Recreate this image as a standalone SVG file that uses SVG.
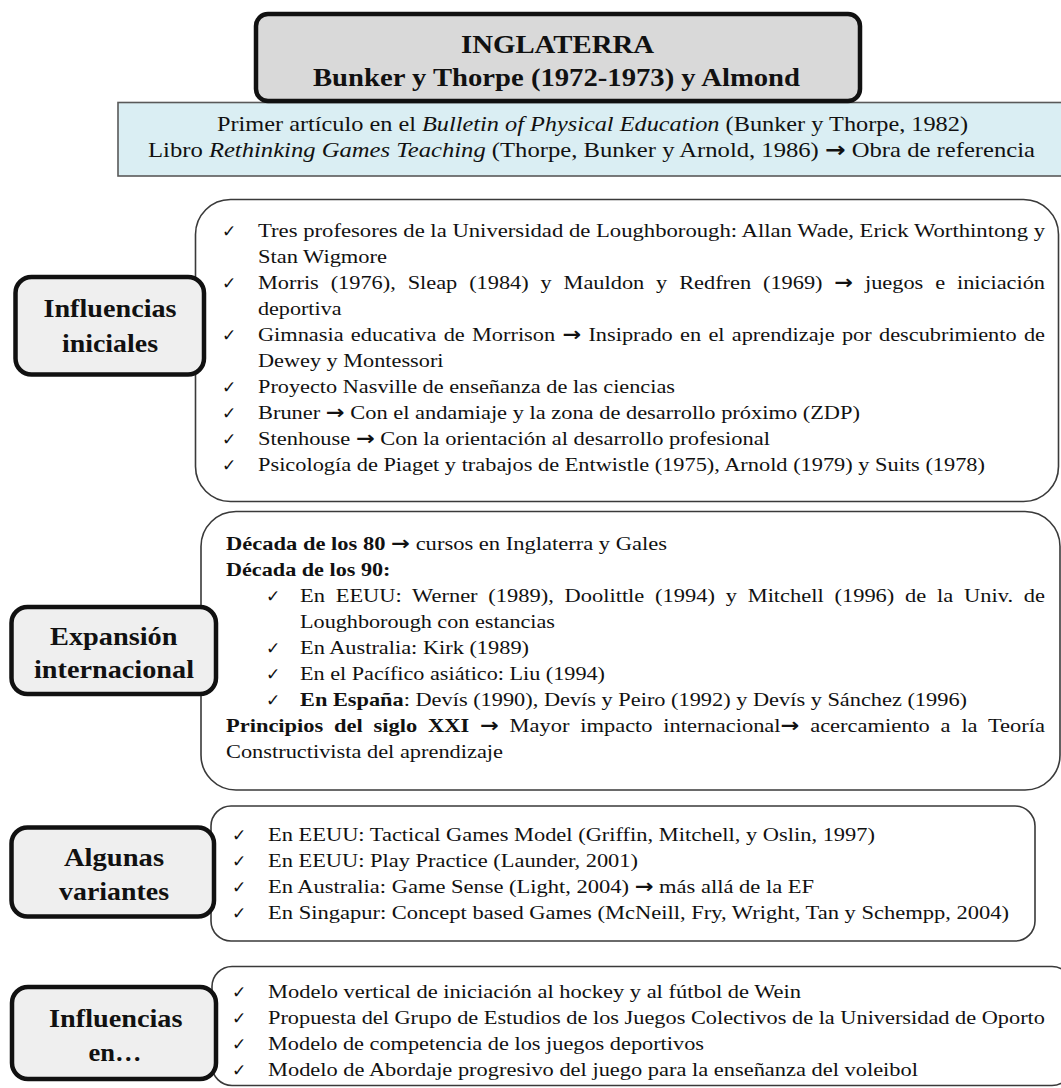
<svg xmlns="http://www.w3.org/2000/svg" width="1061" height="1088" viewBox="0 0 1061 1088">
  <style>
    .t { font-family: "Liberation Serif", "Times New Roman", serif; font-size: 19.5px; fill: #111; }
    .b { font-weight: bold; }
    .i { font-style: italic; }
    .a { font-family: "DejaVu Sans", sans-serif; font-weight: bold; }
    .head { font-family: "Liberation Serif", "Times New Roman", serif; font-size: 25px; font-weight: bold; fill: #111; }
    .lbl { font-family: "Liberation Serif", "Times New Roman", serif; font-size: 25px; font-weight: bold; fill: #111; }
    .sub { font-family: "Liberation Serif", "Times New Roman", serif; font-size: 21.5px; fill: #111; }
    .chk { font-family: "DejaVu Sans", sans-serif; font-size: 17px; fill: #111; }
    .panel { fill: #fff; stroke: #3a3a3a; stroke-width: 1.6; }
    .tag { fill: #efefef; stroke: #111; stroke-width: 4.5; }
  </style>
  <rect width="1061" height="1088" fill="#fff"/>

  <!-- subtitle band -->
  <g id="sources">
    <rect x="118" y="102.5" width="960" height="73.5" fill="#daeef3" stroke="#595959" stroke-width="1.6"/>
    <text class="sub" x="217" y="131" textLength="751" lengthAdjust="spacingAndGlyphs">Primer artículo en el <tspan class="i">Bulletin of Physical Education</tspan> (Bunker y Thorpe, 1982)</text>
    <text class="sub" x="148" y="157" textLength="887" lengthAdjust="spacingAndGlyphs">Libro <tspan class="i">Rethinking Games Teaching</tspan> (Thorpe, Bunker y Arnold, 1986) <tspan class="a">→</tspan> Obra de referencia</text>
  </g>

  <!-- heading -->
  <g id="title">
    <rect x="256" y="14" width="604" height="87" rx="12" fill="#d9d9d9" stroke="#111" stroke-width="4.5"/>
    <text class="head" x="461" y="53" textLength="193" lengthAdjust="spacingAndGlyphs">INGLATERRA</text>
    <text class="head" x="313" y="86" textLength="487" lengthAdjust="spacingAndGlyphs">Bunker y Thorpe (1972-1973) y Almond</text>
  </g>

  <!-- 1: Influencias iniciales -->
  <g id="panel-influencias-iniciales">
    <rect class="panel" x="195.5" y="199.5" width="863" height="302" rx="35"/>
    <text class="chk" x="222" y="236.5">✓</text>
    <text class="t" x="258" y="236.5" textLength="787" lengthAdjust="spacingAndGlyphs">Tres profesores de la Universidad de Loughborough: Allan Wade, Erick Worthintong y</text>
    <text class="t" x="258" y="262.5" textLength="129" lengthAdjust="spacingAndGlyphs">Stan Wigmore</text>
    <text class="chk" x="222" y="288.5">✓</text>
    <text class="t" x="258" y="288.5" textLength="787" lengthAdjust="spacingAndGlyphs" style="word-spacing:5.5px">Morris (1976), Sleap (1984) y Mauldon y Redfren (1969) <tspan class="a">→</tspan> juegos e iniciación</text>
    <text class="t" x="258" y="314.5" textLength="83.5" lengthAdjust="spacingAndGlyphs">deportiva</text>
    <text class="chk" x="222" y="340.5">✓</text>
    <text class="t" x="258" y="340.5" textLength="787" lengthAdjust="spacingAndGlyphs" style="word-spacing:1.5px">Gimnasia educativa de Morrison <tspan class="a">→</tspan> Insiprado en el aprendizaje por descubrimiento de</text>
    <text class="t" x="258" y="366.5" textLength="185.5" lengthAdjust="spacingAndGlyphs">Dewey y Montessori</text>
    <text class="chk" x="222" y="392.5">✓</text>
    <text class="t" x="258" y="392.5" textLength="417" lengthAdjust="spacingAndGlyphs">Proyecto Nasville de enseñanza de las ciencias</text>
    <text class="chk" x="222" y="418.5">✓</text>
    <text class="t" x="258" y="418.5" textLength="602" lengthAdjust="spacingAndGlyphs">Bruner <tspan class="a">→</tspan> Con el andamiaje y la zona de desarrollo próximo (ZDP)</text>
    <text class="chk" x="222" y="444.5">✓</text>
    <text class="t" x="258" y="444.5" textLength="512" lengthAdjust="spacingAndGlyphs">Stenhouse <tspan class="a">→</tspan> Con la orientación al desarrollo profesional</text>
    <text class="chk" x="222" y="470.5">✓</text>
    <text class="t" x="258" y="470.5" textLength="727" lengthAdjust="spacingAndGlyphs">Psicología de Piaget y trabajos de Entwistle (1975), Arnold (1979) y Suits (1978)</text>
  </g>
  <g id="tag-influencias-iniciales">
    <rect class="tag" x="15.5" y="277" width="188.5" height="97.5" rx="16"/>
    <text class="lbl" x="43.5" y="316.6" textLength="133" lengthAdjust="spacingAndGlyphs">Influencias</text>
    <text class="lbl" x="62" y="351.5" textLength="96" lengthAdjust="spacingAndGlyphs">iniciales</text>
  </g>

  <!-- 2: Expansión internacional -->
  <g id="panel-expansion">
    <rect class="panel" x="201" y="511.5" width="859" height="278.5" rx="35"/>
    <text class="t" x="226" y="550" textLength="441" lengthAdjust="spacingAndGlyphs"><tspan class="b">Década de los 80</tspan> <tspan class="a">→</tspan> cursos en Inglaterra y Gales</text>
    <text class="t b" x="226" y="576" textLength="164.5" lengthAdjust="spacingAndGlyphs">Década de los 90:</text>
    <text class="chk" x="266" y="602">✓</text>
    <text class="t" x="300" y="602" textLength="745" lengthAdjust="spacingAndGlyphs" style="word-spacing:4.5px">En EEUU: Werner (1989), Doolittle (1994) y Mitchell (1996) de la Univ. de</text>
    <text class="t" x="300" y="628" textLength="255" lengthAdjust="spacingAndGlyphs">Loughborough con estancias</text>
    <text class="chk" x="266" y="654">✓</text>
    <text class="t" x="300" y="654" textLength="229" lengthAdjust="spacingAndGlyphs">En Australia: Kirk (1989)</text>
    <text class="chk" x="266" y="680">✓</text>
    <text class="t" x="300" y="680" textLength="305" lengthAdjust="spacingAndGlyphs">En el Pacífico asiático: Liu (1994)</text>
    <text class="chk" x="266" y="706">✓</text>
    <text class="t" x="300" y="706" textLength="667" lengthAdjust="spacingAndGlyphs"><tspan class="b">En España</tspan>: Devís (1990), Devís y Peiro (1992) y Devís y Sánchez (1996)</text>
    <text class="t" x="226" y="732" textLength="819" lengthAdjust="spacingAndGlyphs" style="word-spacing:4.5px"><tspan class="b">Principios del siglo XXI</tspan> <tspan class="a">→</tspan> Mayor impacto internacional<tspan class="a">→</tspan> acercamiento a la Teoría</text>
    <text class="t" x="226" y="758" textLength="277" lengthAdjust="spacingAndGlyphs">Constructivista del aprendizaje</text>
  </g>
  <g id="tag-expansion">
    <rect class="tag" x="11.5" y="607" width="204.5" height="87" rx="16"/>
    <text class="lbl" x="50" y="645.4" textLength="127.5" lengthAdjust="spacingAndGlyphs">Expansión</text>
    <text class="lbl" x="34" y="677.5" textLength="160" lengthAdjust="spacingAndGlyphs">internacional</text>
  </g>

  <!-- 3: Algunas variantes -->
  <g id="panel-variantes">
    <rect class="panel" x="211" y="806" width="824" height="135" rx="20"/>
    <text class="chk" x="232" y="841">✓</text>
    <text class="t" x="268" y="841" textLength="607" lengthAdjust="spacingAndGlyphs">En EEUU: Tactical Games Model (Griffin, Mitchell, y Oslin, 1997)</text>
    <text class="chk" x="232" y="867">✓</text>
    <text class="t" x="268" y="867" textLength="370" lengthAdjust="spacingAndGlyphs">En EEUU: Play Practice (Launder, 2001)</text>
    <text class="chk" x="232" y="892.5">✓</text>
    <text class="t" x="268" y="892.5" textLength="546" lengthAdjust="spacingAndGlyphs">En Australia: Game Sense (Light, 2004) <tspan class="a">→</tspan> más allá de la EF</text>
    <text class="chk" x="232" y="918.5">✓</text>
    <text class="t" x="268" y="918.5" textLength="741" lengthAdjust="spacingAndGlyphs">En Singapur: Concept based Games (McNeill, Fry, Wright, Tan y Schempp, 2004)</text>
  </g>
  <g id="tag-variantes">
    <rect class="tag" x="11.5" y="827.5" width="202.5" height="89" rx="16"/>
    <text class="lbl" x="64" y="866" textLength="100" lengthAdjust="spacingAndGlyphs">Algunas</text>
    <text class="lbl" x="59" y="900" textLength="110" lengthAdjust="spacingAndGlyphs">variantes</text>
  </g>

  <!-- 4: Influencias en... -->
  <g id="panel-influencias-en">
    <rect class="panel" x="212" y="966.5" width="860" height="119" rx="20"/>
    <text class="chk" x="232" y="998">✓</text>
    <text class="t" x="268" y="998" textLength="533" lengthAdjust="spacingAndGlyphs">Modelo vertical de iniciación al hockey y al fútbol de Wein</text>
    <text class="chk" x="232" y="1024">✓</text>
    <text class="t" x="268" y="1024" textLength="777" lengthAdjust="spacingAndGlyphs">Propuesta del Grupo de Estudios de los Juegos Colectivos de la Universidad de Oporto</text>
    <text class="chk" x="232" y="1050">✓</text>
    <text class="t" x="268" y="1050" textLength="436" lengthAdjust="spacingAndGlyphs">Modelo de competencia de los juegos deportivos</text>
    <text class="chk" x="232" y="1076">✓</text>
    <text class="t" x="268" y="1076" textLength="650" lengthAdjust="spacingAndGlyphs">Modelo de Abordaje progresivo del juego para la enseñanza del voleibol</text>
  </g>
  <g id="tag-influencias-en">
    <rect class="tag" x="12" y="987" width="204" height="92" rx="16"/>
    <text class="lbl" x="49" y="1026.6" textLength="133.5" lengthAdjust="spacingAndGlyphs">Influencias</text>
    <text class="lbl" x="88.6" y="1060.5" textLength="53" lengthAdjust="spacingAndGlyphs">en…</text>
  </g>

  <!-- the layout has no connecting lines -->
  <g id="connectors"/>
</svg>
